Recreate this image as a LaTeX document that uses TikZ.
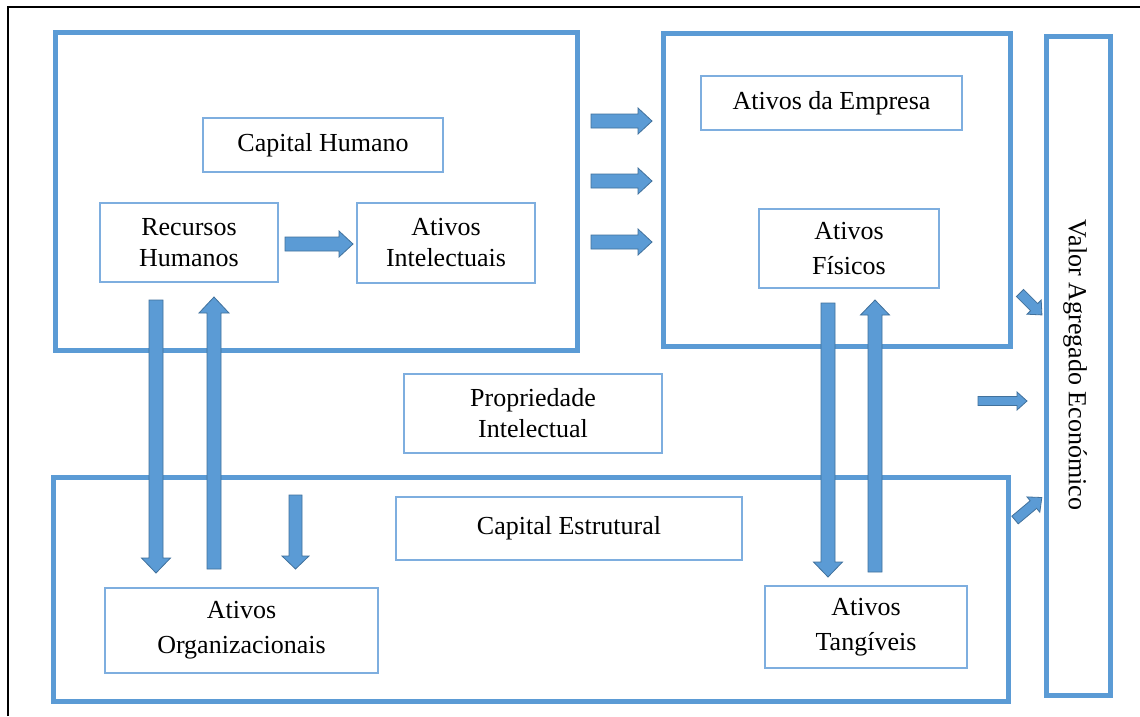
\documentclass[tikz,border=0pt]{standalone}
\usepackage{fontspec}
\setmainfont{Liberation Serif}
\definecolor{bluemain}{HTML}{5B9BD5}
\definecolor{bluedark}{HTML}{41719C}
\definecolor{bluelight}{HTML}{7EAEDF}
\tikzset{
  outerbox/.style={draw=bluemain, line width=5pt, inner sep=0pt},
  lblbox/.style={draw=bluelight, line width=1.6pt, inner sep=0pt, align=center,
    font=\fontsize{26}{31}\selectfont},
  widelines/.style={font=\fontsize{26}{35}\selectfont},
  blockarr/.style={fill=bluemain, draw=bluedark, line width=0.8pt, line join=miter},
}
% x, y, angle, length, shaft half, head half, head length
\newcommand\barrow[7]{%
  \draw[blockarr, shift={(#1,#2)}, rotate=#3]
    (0,-#5) -- ({#4-#7},-#5) -- ({#4-#7},-#6) -- (#4,0) -- ({#4-#7},#6)
    -- ({#4-#7},#5) -- (0,#5) -- cycle;}
\begin{document}
\begin{tikzpicture}[x=1pt,y=-1pt]
\useasboundingbox (0,0) rectangle (1140,716);
\fill[white] (0,0) rectangle (1140,716);
% black frame
\draw[black, line width=2pt] (8,716) -- (8,7) -- (1140,7);

% outer boxes
\node[outerbox, minimum width=522pt, minimum height=318pt] (capbox) at (316,191) {};
\node[outerbox, minimum width=347pt, minimum height=313pt] (empbox) at (836.5,190) {};
\node[outerbox, minimum width=955pt, minimum height=224pt] (estbox) at (530.5,589) {};
\node[outerbox, minimum width=64pt, minimum height=659pt] (valbox) at (1078,365.5) {};

% label boxes
\node[lblbox, minimum width=240pt, minimum height=54pt] (ch) at (323,145) {Capital Humano};
\node[lblbox, minimum width=178pt, minimum height=79pt] (rh) at (189,242.5) {Recursos\\Humanos};
\node[lblbox, minimum width=178pt, minimum height=80pt] (ai) at (446,243) {Ativos\\Intelectuais};
\node[lblbox, minimum width=261pt, minimum height=54pt] (ae) at (831.5,103) {Ativos da Empresa};
\node[lblbox, widelines, minimum width=180pt, minimum height=79pt] (af) at (849,248.5) {Ativos\\Físicos};
\node[lblbox, minimum width=258pt, minimum height=79pt] (pi) at (533,413.5) {Propriedade\\Intelectual};
\node[lblbox, minimum width=346pt, minimum height=63pt] (ce) at (569,528.5) {Capital Estrutural};
\node[lblbox, widelines, minimum width=273pt, minimum height=85pt] (ao) at (241.5,630.5) {Ativos\\Organizacionais};
\node[lblbox, widelines, minimum width=202pt, minimum height=82pt] (at) at (866,627) {Ativos\\Tangíveis};

\node[rotate=-90, font=\fontsize{26}{31}\selectfont, inner sep=0pt] (va) at (1075,365) {Valor Agregado Económico};

% block arrows
\barrow{285}{244}{0}{68}{7}{13}{14}
\barrow{591}{121}{0}{61}{7}{13}{14}
\barrow{591}{181}{0}{61}{7}{13}{14}
\barrow{591}{242}{0}{61}{7}{13}{14}
\barrow{156}{300}{-90}{273}{7}{14.5}{15}
\barrow{214}{569}{90}{272}{7}{15}{16}
\barrow{295.5}{495}{-90}{74}{6.5}{13.5}{13}
\barrow{828}{303}{-90}{274}{7}{14.5}{15}
\barrow{875}{572}{90}{272}{7}{14.5}{15}
\barrow{1020}{293}{-45}{31}{5}{10}{11}
\barrow{978}{401}{0}{49}{4.5}{9}{10}
\barrow{1015}{520}{40}{35}{5}{10}{11}
\end{tikzpicture}
\end{document}
